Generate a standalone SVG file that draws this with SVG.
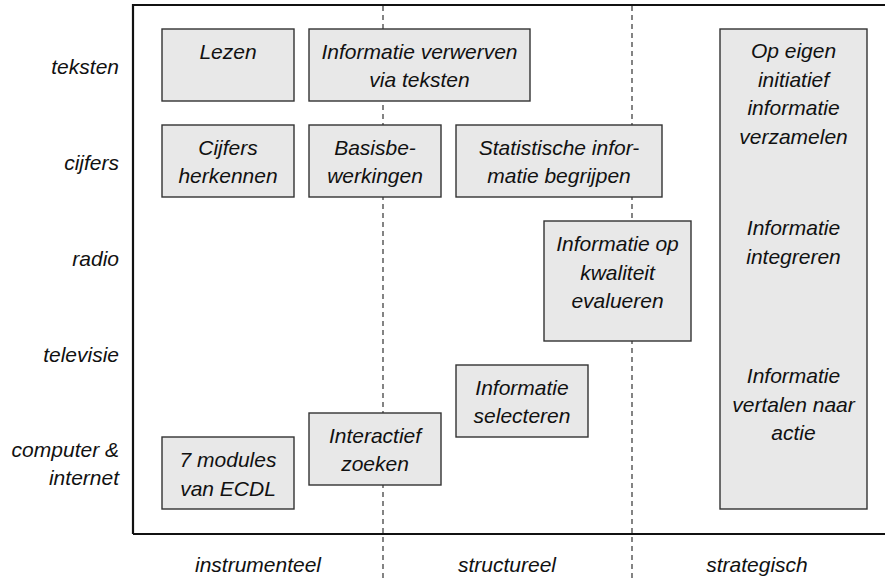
<svg xmlns="http://www.w3.org/2000/svg" width="885" height="580" viewBox="0 0 885 580">
<style>
text{font-family:"Liberation Sans",Arial,sans-serif;font-style:italic;font-size:21px;fill:#111}
.c{text-anchor:middle}
.r{text-anchor:end}
.box{fill:#e8e8e8;stroke:#333;stroke-width:1.4}
.dash{stroke:#333;stroke-width:1.2;stroke-dasharray:5 4;fill:none}
</style>
<rect x="0" y="0" width="885" height="580" fill="#fff"/>
<g id="connectors">
<line class="dash" x1="383" y1="6" x2="383" y2="580"/>
<line class="dash" x1="632" y1="6" x2="632" y2="580"/>
</g>
<g id="frame">
<path d="M133,534 V5 H890 M133,534 H890" fill="none" stroke="#111" stroke-width="2.2"/>
</g>
<g id="row-labels">
<text class="r" x="119" y="74">teksten</text>
<text class="r" x="119" y="170">cijfers</text>
<text class="r" x="119" y="266">radio</text>
<text class="r" x="119" y="362">televisie</text>
<text class="r" x="119" y="457">computer &amp;</text>
<text class="r" x="119" y="485">internet</text>
</g>
<g id="col-labels">
<text class="c" x="258" y="572">instrumenteel</text>
<text class="c" x="507" y="572">structureel</text>
<text class="c" x="757" y="572">strategisch</text>
</g>
<g id="lezen">
<rect class="box" x="162" y="29" width="132" height="72"/>
<text class="c" x="228" y="59">Lezen</text>
</g>
<g id="informatie-verwerven">
<rect class="box" x="309" y="29" width="221" height="72"/>
<text class="c" x="419.5" y="59">Informatie verwerven</text>
<text class="c" x="419.5" y="87">via teksten</text>
</g>
<g id="cijfers-herkennen">
<rect class="box" x="162" y="125" width="132" height="72"/>
<text class="c" x="228" y="155">Cijfers</text>
<text class="c" x="228" y="183">herkennen</text>
</g>
<g id="basisbewerkingen">
<rect class="box" x="309" y="125" width="132" height="72"/>
<text class="c" x="375" y="155">Basisbe-</text>
<text class="c" x="375" y="183">werkingen</text>
</g>
<g id="statistische-informatie">
<rect class="box" x="456" y="125" width="206" height="72"/>
<text class="c" x="559" y="155">Statistische infor-</text>
<text class="c" x="559" y="183">matie begrijpen</text>
</g>
<g id="kwaliteit-evalueren">
<rect class="box" x="544" y="221" width="147" height="120"/>
<text class="c" x="617.5" y="251">Informatie op</text>
<text class="c" x="617.5" y="279.5">kwaliteit</text>
<text class="c" x="617.5" y="308">evalueren</text>
</g>
<g id="informatie-selecteren">
<rect class="box" x="456" y="365" width="132" height="72"/>
<text class="c" x="522" y="394.5">Informatie</text>
<text class="c" x="522" y="423">selecteren</text>
</g>
<g id="interactief-zoeken">
<rect class="box" x="309" y="413" width="132" height="72"/>
<text class="c" x="375" y="442.5">Interactief</text>
<text class="c" x="375" y="471">zoeken</text>
</g>
<g id="ecdl">
<rect class="box" x="162" y="437" width="132" height="72"/>
<text class="c" x="228" y="467">7 modules</text>
<text class="c" x="228" y="495.5">van ECDL</text>
</g>
<g id="strategisch-box">
<rect class="box" x="720" y="29" width="147" height="480"/>
<text class="c" x="793.5" y="58">Op eigen</text>
<text class="c" x="793.5" y="86.5">initiatief</text>
<text class="c" x="793.5" y="115">informatie</text>
<text class="c" x="793.5" y="143.5">verzamelen</text>
<text class="c" x="793.5" y="235">Informatie</text>
<text class="c" x="793.5" y="263.5">integreren</text>
<text class="c" x="793.5" y="383">Informatie</text>
<text class="c" x="793.5" y="411.5">vertalen naar</text>
<text class="c" x="793.5" y="440">actie</text>
</g>
</svg>
